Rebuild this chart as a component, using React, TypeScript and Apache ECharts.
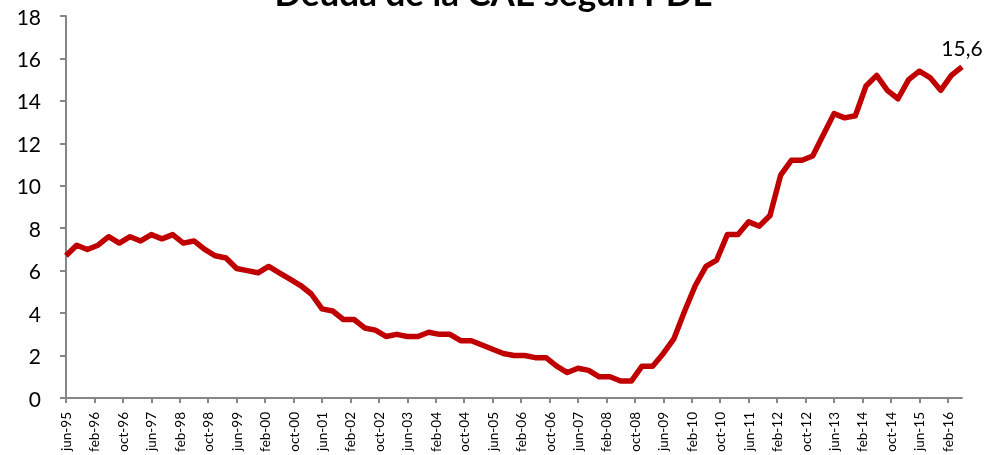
import React, { useEffect, useRef } from "react";
import * as echarts from "echarts";

const TITLE = "Deuda de la CAE según PDE";
const MONTHS = ["ene", "feb", "mar", "abr", "may", "jun", "jul", "ago", "sep", "oct", "nov", "dic"];
// quarterly values, from jun-95 to jun-16 (one every 3 months)
const START_YEAR = 1995;
const START_MONTH = 5; // june (0-based)
const DEBT = [
  6.7, 7.2, 7.0, 7.2, 7.6, 7.3, 7.6, 7.4, 7.7, 7.5,
  7.7, 7.3, 7.4, 7.0, 6.7, 6.6, 6.1, 6.0, 5.9, 6.2,
  5.9, 5.6, 5.3, 4.9, 4.2, 4.1, 3.7, 3.7, 3.3, 3.2,
  2.9, 3.0, 2.9, 2.9, 3.1, 3.0, 3.0, 2.7, 2.7, 2.5,
  2.3, 2.1, 2.0, 2.0, 1.9, 1.9, 1.5, 1.2, 1.4, 1.3,
  1.0, 1.0, 0.8, 0.8, 1.5, 1.5, 2.1, 2.8, 4.1, 5.3,
  6.2, 6.5, 7.7, 7.7, 8.3, 8.1, 8.6, 10.5, 11.2, 11.2,
  11.4, 12.4, 13.4, 13.2, 13.3, 14.7, 15.2, 14.5, 14.1, 15.0,
  15.4, 15.1, 14.5, 15.2, 15.6,
];

const monthCount = (DEBT.length - 1) * 3 + 1;
const CATEGORIES: string[] = [];
for (let i = 0; i < monthCount; i++) {
  const m = (START_MONTH + i) % 12;
  const y = START_YEAR + Math.floor((START_MONTH + i) / 12);
  CATEGORIES.push(MONTHS[m] + "-" + String(y % 100).padStart(2, "0"));
}
const Y_MIN = 0;
const Y_MAX = 18;
const Y_STEP = 2;

export default function App() {
  const ref = useRef<HTMLDivElement>(null);
  useEffect(() => {
    if (!ref.current) return;
    const chart = echarts.init(ref.current, null, { renderer: "svg" });
    const last = DEBT.length - 1;
    chart.setOption({
      animation: false,
      title: {
        text: TITLE,
        left: "center",
        top: -31,
        textStyle: { fontFamily: "Lato", fontWeight: "bold", fontSize: 35, color: "#000" },
      },
      grid: { left: 66, right: 25, top: 16, bottom: 57, containLabel: false },
      xAxis: {
        type: "category",
        data: CATEGORIES,
        boundaryGap: false,
        axisLine: { lineStyle: { color: "#868686", width: 2 } },
        axisTick: { show: true, interval: 7, length: 5, lineStyle: { color: "#868686", width: 2 } },
        axisLabel: {
          interval: 7,
          rotate: 90,
          margin: 14,
          fontFamily: "Lato",
          fontSize: 13.5,
          color: "#000",
        },
        splitLine: { show: false },
      },
      yAxis: {
        type: "value",
        min: Y_MIN,
        max: Y_MAX,
        interval: Y_STEP,
        axisLine: { show: true, lineStyle: { color: "#868686", width: 2 } },
        axisTick: { show: true, length: 6, lineStyle: { color: "#868686", width: 2 } },
        axisLabel: { margin: 25, fontFamily: "Lato", fontSize: 21, color: "#000" },
        splitLine: { show: false },
      },
      series: [
        {
          type: "line",
          data: DEBT.map((v, i) =>
            i === last
              ? {
                  value: [i * 3, v],
                  label: {
                    show: true,
                    position: "top",
                    distance: 9,
                    fontFamily: "Lato",
                    fontSize: 21,
                    color: "#000",
                    formatter: (p: any) => String(p.value[1]).replace(".", ","),
                  },
                }
              : [i * 3, v]
          ),
          showSymbol: true,
          symbol: "circle",
          symbolSize: 0,
          lineStyle: { color: "#C00000", width: 5.5, join: "round" },
          itemStyle: { color: "#C00000" },
        },
      ],
    });
    return () => chart.dispose();
  }, []);
  return (
    <div
      ref={ref}
      style={{ position: "fixed", left: 0, top: 0, width: 987, height: 455 }}
    />
  );
}
